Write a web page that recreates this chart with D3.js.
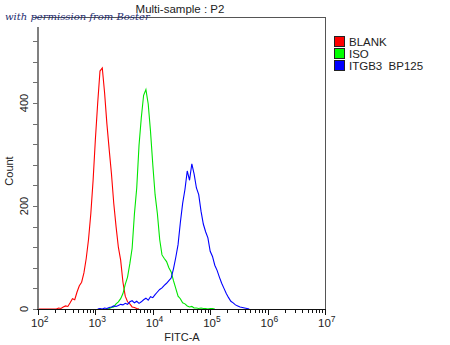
<!DOCTYPE html>
<html>
<head>
<meta charset="utf-8">
<script src="https://cdn.jsdelivr.net/npm/d3@7"></script>
<style>
  html, body { margin: 0; padding: 0; background: #fff; }
  svg { display: block; font-family: "Liberation Sans", Arial, sans-serif; }
  .pre { white-space: pre; }
</style>
</head>
<body>
<svg id="chart" width="450" height="345"></svg>
<script>
// Histogram channels: log10(FITC-A) bin positions, step 0.04 starting at 10^2
const binStart = 2.0;
const binStep = 0.04;

// Event counts per channel for each sample
const blankCounts = [
  20, 0, 0, 0, 0, 0, 0, 0, 0, 2,
  1, 4, 6, 5, 12, 20, 18, 33, 45, 52,
  70, 98, 135, 185, 250, 330, 400, 462, 468, 420,
  360, 310, 262, 205, 160, 120, 95, 52, 25, 14,
  10, 4, 3, 1, 0
];
const isoCounts = [
  0, 0, 0, 0, 0, 0, 0, 0, 0, 0,
  0, 0, 0, 0, 0, 0, 0, 0, 0, 0,
  0, 0, 0, 0, 0, 0, 0, 0, 0, 0,
  0, 1, 3, 4, 10, 14, 20, 30, 48, 62,
  88, 118, 185, 235, 318, 372, 415, 426, 398, 345,
  280, 222, 185, 135, 105, 98, 92, 80, 72, 55,
  40, 25, 20, 12, 10, 6, 4, 5, 2, 2,
  1, 2, 1, 1, 0, 1, 1, 0
];
const itgb3Counts = [
  0, 0, 0, 0, 0, 0, 0, 0, 0, 0,
  0, 0, 0, 0, 0, 0, 0, 0, 0, 0,
  0, 0, 0, 0, 0, 0, 0, 1, 0, 2,
  1, 3, 4, 6, 5, 7, 9, 8, 11, 9,
  14, 16, 12, 15, 11, 14, 18, 21, 17, 24,
  22, 28, 33, 38, 41, 46, 50, 55, 60, 78,
  100, 125, 168, 205, 232, 268, 250, 282, 262, 235,
  222, 190, 165, 150, 138, 112, 102, 85, 75, 62,
  50, 40, 30, 22, 15, 12, 8, 6, 4, 3,
  2, 1, 0
];

const seriesNames = ["BLANK", "ISO", "ITGB3  BP125"];
const seriesColors = ["#ff0000", "#00e600", "#0000ff"];
const swatchColors = ["#ff0000", "#00ff00", "#0000ff"];
const xTickExponents = [2, 3, 4, 5, 6, 7];
const yTickLabels = [0, 200, 400];

const svg = d3.select("#chart");
const L = 38, R = 325, T = 17, B = 309;

const x = d3.scaleLinear().domain([2, 7]).range([L, R]);
const y = d3.scaleLinear().domain([0, 567]).range([B, T]);

// Title and frame
svg.append("text").attr("x", 180).attr("y", 13).attr("text-anchor", "middle")
  .attr("font-size", 11.5).attr("fill", "#222").text("Multi-sample : P2");

svg.append("line").attr("x1", 33).attr("x2", R).attr("y1", T + 0.5).attr("y2", T + 0.5)
  .attr("stroke", "#555").attr("stroke-width", 1);
svg.append("line").attr("x1", R + 0.5).attr("x2", R + 0.5).attr("y1", T).attr("y2", B)
  .attr("stroke", "#555").attr("stroke-width", 1);

// Histogram traces
const seriesData = [blankCounts, isoCounts, itgb3Counts];
const line = d3.line()
  .x(d => x(d[0]))
  .y(d => y(d[1]))
  .curve(d3.curveLinear);

seriesData.forEach((counts, k) => {
  const pts = counts.map((c, i) => [binStart + i * binStep, c]);
  let first = pts.findIndex((p, i) => i > 1 && p[1] > 0);
  if (k === 0) first = 0;
  const trimmed = pts.slice(Math.max(0, first - 1));
  // the first BLANK channel is drawn as an isolated spike at the axis
  if (k === 0) trimmed.splice(1, 0, [binStart + 0.004, 0]);
  svg.append("path").datum(trimmed)
    .attr("d", line)
    .attr("fill", "none")
    .attr("stroke", seriesColors[k])
    .attr("stroke-width", 1.1)
    .attr("stroke-linejoin", "miter");
});

// Y axis (gray, thick) with minor ticks every 40 and labels every 200
const yAxisG = svg.append("g");
yAxisG.append("line").attr("x1", L).attr("x2", L).attr("y1", 27).attr("y2", B)
  .attr("stroke", "#808080").attr("stroke-width", 2);
const yTicks = d3.range(0, 560, 40);
yAxisG.selectAll("line.tk").data(yTicks).enter().append("line")
  .attr("class", "tk")
  .attr("x1", L - 5).attr("x2", L)
  .attr("y1", d => Math.round(y(d)) + 0.5).attr("y2", d => Math.round(y(d)) + 0.5)
  .attr("stroke", "#707070").attr("stroke-width", 1);
yAxisG.selectAll("text").data(yTickLabels).enter().append("text")
  .attr("transform", d => `translate(28,${y(d)}) rotate(-90)`)
  .attr("text-anchor", "middle").attr("font-size", 11).attr("fill", "#222")
  .text(d => d);
svg.append("text").attr("transform", `translate(13,${(T + B) / 2 + 8}) rotate(-90)`)
  .attr("text-anchor", "middle").attr("font-size", 11).attr("fill", "#222").text("Count");

// X axis (log decades with minor ticks)
const xAxisG = svg.append("g");
xAxisG.append("line").attr("x1", L - 1).attr("x2", R + 1).attr("y1", B + 0.5).attr("y2", B + 0.5)
  .attr("stroke", "#111").attr("stroke-width", 1);
const minor = [];
for (let e = 2; e < 7; e++) for (let m = 2; m <= 9; m++) minor.push(e + Math.log10(m));
xAxisG.selectAll("line.mn").data(minor).enter().append("line")
  .attr("class", "mn")
  .attr("x1", d => Math.round(x(d)) + 0.5).attr("x2", d => Math.round(x(d)) + 0.5)
  .attr("y1", B).attr("y2", B + 4)
  .attr("stroke", "#111");
xAxisG.selectAll("line.mj").data(xTickExponents).enter().append("line")
  .attr("class", "mj")
  .attr("x1", d => Math.round(x(d)) + 0.5).attr("x2", d => Math.round(x(d)) + 0.5)
  .attr("y1", B).attr("y2", B + 6)
  .attr("stroke", "#111");
const xl = xAxisG.selectAll("text").data(xTickExponents).enter().append("text")
  .attr("x", d => x(d) - 7).attr("y", 327)
  .attr("font-size", 11.5).attr("fill", "#222");
xl.append("tspan").text("10");
xl.append("tspan").attr("dy", -5).attr("font-size", 8.5).text(d => d);

svg.append("text").attr("x", 182).attr("y", 341).attr("text-anchor", "middle")
  .attr("font-size", 11).attr("fill", "#222").text("FITC-A");

// Legend
const lg = svg.append("g").attr("transform", "translate(334,36)");
seriesNames.forEach((name, i) => {
  lg.append("rect").attr("x", 0.5).attr("y", i * 12 + 0.5).attr("width", 10).attr("height", 10)
    .attr("fill", swatchColors[i])
    .attr("stroke", "#222").attr("stroke-width", 1);
  lg.append("text").attr("class", "pre").attr("x", 15).attr("y", i * 12 + 10)
    .attr("font-size", 11.5).attr("fill", "#222").text(name);
});

// Attribution note
svg.append("text").attr("x", 5).attr("y", 20)
  .attr("font-family", "'DejaVu Serif', serif").attr("font-style", "italic")
  .attr("font-size", 10).attr("fill", "#1c2a6e").text("with permission from Boster");
</script>
</body>
</html>
